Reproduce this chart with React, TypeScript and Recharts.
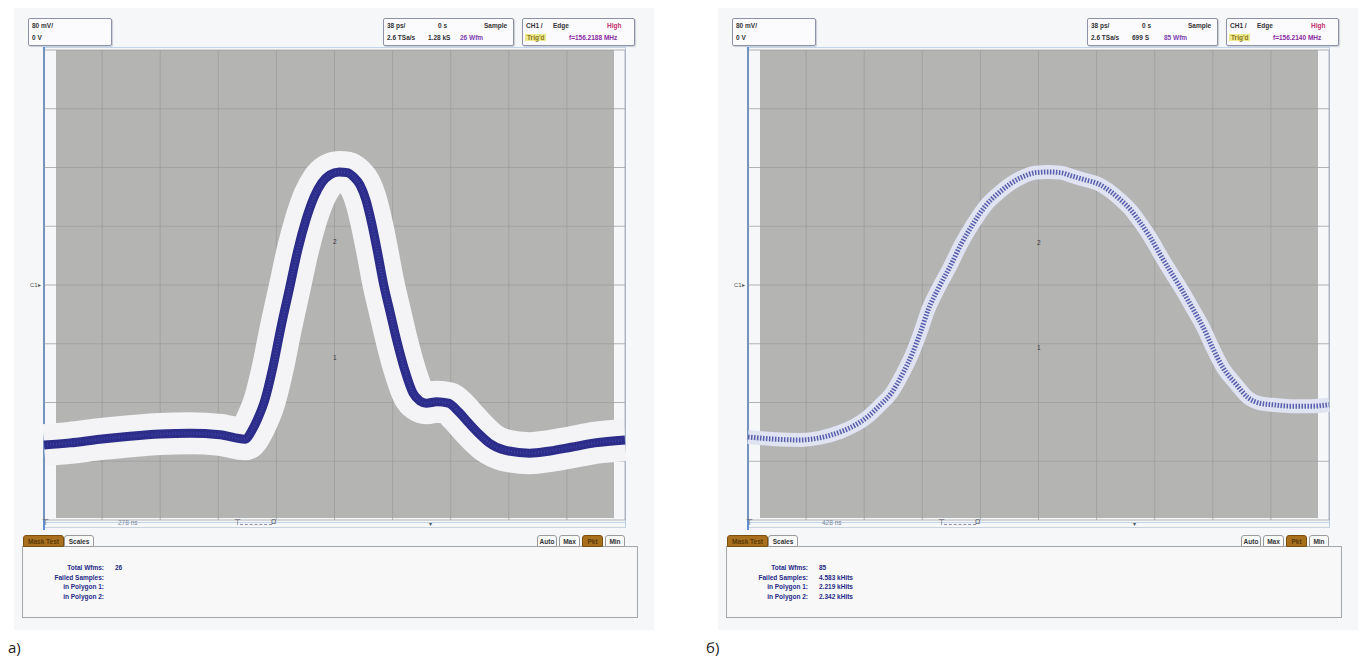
import { LineChart, Line, XAxis, YAxis, CartesianGrid } from "recharts";

// horizontal position in divisions (0..10), vertical value in mV (80 mV/div)
const pulseDiv = [0, 0.45, 0.96, 1.48, 2.0, 2.51, 3.03, 3.46, 3.58, 3.68, 3.8, 3.94, 4.08, 4.23, 4.37, 4.51, 4.65, 4.78, 4.92, 5.08, 5.22, 5.33, 5.44, 5.54, 5.64, 5.74, 5.84, 5.96, 6.07, 6.21, 6.35, 6.47, 6.58, 6.76, 6.96, 7.14, 7.31, 7.49, 7.66, 7.93, 8.36, 8.71, 9.07, 9.48, 10];
const pulseMv = [-218, -215, -210, -206, -203, -202, -204, -210, -198, -182, -157, -112, -57, -3, 48, 89, 120, 139, 150, 154, 153, 147, 136, 116, 84, 45, 3, -38, -75, -116, -147, -158, -161, -159, -161, -173, -188, -203, -215, -225, -229, -226, -221, -215, -211];

const waveDiv = [0, 0.47, 0.9, 1.24, 1.59, 1.84, 2.05, 2.28, 2.47, 2.66, 2.83, 2.97, 3.1, 3.28, 3.47, 3.67, 3.88, 4.09, 4.31, 4.52, 4.72, 4.95, 5.16, 5.38, 5.59, 5.81, 6.02, 6.21, 6.41, 6.59, 6.76, 6.93, 7.12, 7.29, 7.47, 7.66, 7.83, 8.0, 8.17, 8.4, 8.6, 8.81, 9.02, 9.34, 9.69, 10];
const waveMv = [-207, -210, -211, -208, -200, -191, -180, -163, -147, -121, -93, -64, -34, -4, 24, 56, 84, 108, 125, 138, 147, 153, 154, 153, 148, 143, 138, 129, 116, 102, 84, 64, 38, 16, -7, -33, -57, -86, -112, -135, -153, -161, -163, -165, -165, -163];

const xTicks = [0, 1, 2, 3, 4, 5, 6, 7, 8, 9, 10];
const yTicks = [-320, -240, -160, -80, 0, 80, 160, 240, 320];

const statLabels = ["Total Wfms:", "Failed Samples:", "in Polygon 1:", "in Polygon 2:"];
const statsA = ["26", "", "", ""];
const statsB = ["85", "4.583 kHits", "2.219 kHits", "2.342 kHits"];

const FONT = '"Liberation Sans", Arial, sans-serif';
const NAVY = "#1e2a86";

function InfoBoxes({ x0, rate, wfm, freq }: { x0: number; rate: string; wfm: string; freq: string }) {
  const box = {
    position: "absolute" as const,
    top: 18,
    height: 26,
    background: "#fbfbfd",
    border: "1px solid #8e92a8",
    borderRadius: 2,
    boxShadow: "1px 1px 1px #c9ccd6",
    fontFamily: FONT,
    fontSize: 6.5,
    fontWeight: 700,
    color: "#333",
  };
  const cell = (left: number, top: number, text: string, extra: object = {}) => (
    <span style={{ position: "absolute", left, top, whiteSpace: "nowrap", ...extra }}>{text}</span>
  );
  return (
    <>
      <div style={{ ...box, left: x0 + 28, width: 82 }}>
        {cell(3, 3, "80 mV/")}
        {cell(3, 15, "0 V")}
      </div>
      <div style={{ ...box, left: x0 + 383, width: 129 }}>
        {cell(3, 3, "38 ps/")}
        {cell(54, 3, "0 s")}
        {cell(100, 3, "Sample")}
        {cell(3, 15, "2.6 TSa/s")}
        {cell(44, 15, rate)}
        {cell(76, 15, wfm, { color: "#7b3fb0" })}
      </div>
      <div style={{ ...box, left: x0 + 522, width: 111 }}>
        {cell(3, 3, "CH1 /")}
        {cell(30, 3, "Edge")}
        {cell(84, 3, "High", { color: "#c0306a" })}
        {cell(2, 15, "Trig'd", { background: "#efe98e", color: "#8a7a20", padding: "0 2px" })}
        {cell(46, 15, freq, { color: "#8a2aa0" })}
      </div>
    </>
  );
}

function BottomPanel({ x0, values, axisText }: { x0: number; values: string[]; axisText: string }) {
  const tab = (left: number, width: number, text: string, on: boolean) => (
    <div
      style={{
        position: "absolute",
        left: x0 + left,
        top: 535,
        width,
        height: 12,
        borderRadius: "3px 3px 0 0",
        border: on ? "1px solid #7a5010" : "1px solid #9a9a9a",
        background: on ? "#a8701c" : "#fafafa",
        color: on ? "#5a3a08" : "#333",
        fontFamily: FONT,
        fontSize: 6.5,
        fontWeight: 700,
        textAlign: "center",
        lineHeight: "12px",
        boxSizing: "border-box",
      }}
    >
      {text}
    </div>
  );
  return (
    <>
      <span style={{ position: "absolute", left: x0 + 118, top: 519, fontFamily: FONT, fontSize: 6.5, color: "#7c8aa0" }}>{axisText}</span>
      <span style={{ position: "absolute", left: x0 + 42, top: 518, fontFamily: FONT, fontSize: 8, color: "#4a5060" }}>⊤</span>
      <span style={{ position: "absolute", left: x0 + 234, top: 518, fontFamily: FONT, fontSize: 8, color: "#4a5060" }}>⊤</span>
      <div style={{ position: "absolute", left: x0 + 240, top: 524, width: 32, borderTop: "1px dashed #8a90a0" }} />
      <span style={{ position: "absolute", left: x0 + 271, top: 518, fontFamily: FONT, fontSize: 7, color: "#4a5060" }}>Ω</span>
      <span style={{ position: "absolute", left: x0 + 429, top: 520, fontFamily: FONT, fontSize: 6, color: "#4a5060" }}>▾</span>
      <div style={{ position: "absolute", left: x0 + 22, top: 546, width: 616, height: 72, border: "1px solid #a3a6ad", background: "#f8f8f9", boxSizing: "border-box" }} />
      {tab(23, 41, "Mask Test", true)}
      {tab(64, 30, "Scales", false)}
      {tab(537, 20, "Auto", false)}
      {tab(559, 21, "Max", false)}
      {tab(582, 21, "Pkt", true)}
      {tab(605, 20, "Min", false)}
      {statLabels.map((s, i) => (
        <span key={s} style={{ position: "absolute", right: 1368 - (x0 + 104), top: 564 + i * 9.5, fontFamily: FONT, fontSize: 6.5, fontWeight: 700, color: NAVY, whiteSpace: "nowrap" }}>
          {s}
        </span>
      ))}
      {values.map((v, i) => (
        <span key={i} style={{ position: "absolute", left: x0 + 115, top: 564 + i * 9.5, fontFamily: FONT, fontSize: 6.5, fontWeight: 700, color: NAVY, whiteSpace: "nowrap" }}>
          {v}
        </span>
      ))}
    </>
  );
}

function Scope({ x0, div, mv, masked, marks }: { x0: number; div: number[]; mv: number[]; masked: boolean; marks: number[] }) {
  const data = div.map((t, i) => ({ t, v: mv[i] }));
  return (
    <>
      <div style={{ position: "absolute", left: x0 + 56, top: 50, width: 558, height: 468, background: "#b4b4b3" }} />
      <div style={{ position: "absolute", left: x0 + 44, top: 47, width: 582, height: 1, background: "#c3d4ea" }} />
      <div style={{ position: "absolute", left: x0 + 625, top: 47, width: 1, height: 481, background: "#b5cbe8" }} />
      <div style={{ position: "absolute", left: x0 + 44, top: 522, width: 582, height: 1, background: "#c3d4ea" }} />
      <div style={{ position: "absolute", left: x0 + 44, top: 527, width: 582, height: 1, background: "#c9d3df" }} />
      <div style={{ position: "absolute", left: x0 + 43, top: 47, width: 2, height: 483, background: "#5d8fd4" }} />
      <div style={{ position: "absolute", left: x0, top: 0 }}>
        <LineChart width={650} height={540} data={data} margin={{ top: 50, right: 25, bottom: 20, left: 44 }}>
          <CartesianGrid stroke="#9c9c9c" strokeOpacity={0.75} />
          <XAxis type="number" dataKey="t" domain={[0, 10]} ticks={xTicks} hide />
          <YAxis type="number" domain={[-320, 320]} ticks={yTicks} hide />
          {masked && (
            <Line dataKey="v" type="monotone" stroke="#f4f4f6" strokeWidth={42} strokeLinejoin="round" strokeLinecap="butt" dot={false} isAnimationActive={false} />
          )}
          {masked ? (
            <Line dataKey="v" type="monotone" stroke="#2c2c8a" strokeWidth={9} dot={false} isAnimationActive={false} />
          ) : (
            <Line dataKey="v" type="monotone" stroke="#dfe3f2" strokeWidth={14} dot={false} isAnimationActive={false} />
          )}
          <Line
            dataKey="v"
            type="monotone"
            stroke={masked ? "#4b4bb0" : "#363c9c"}
            strokeWidth={masked ? 3 : 5}
            strokeDasharray={masked ? "1 2" : "1.5 1.5"}
            strokeOpacity={masked ? 0.6 : 0.8}
            dot={false}
            isAnimationActive={false}
          />
        </LineChart>
      </div>
      <span style={{ position: "absolute", left: x0 + 30, top: 281, fontFamily: FONT, fontSize: 6, color: "#555" }}>C1▸</span>
      <span style={{ position: "absolute", left: x0 + 333, top: marks[0] - 4, fontFamily: FONT, fontSize: 6.5, color: "#333" }}>2</span>
      <span style={{ position: "absolute", left: x0 + 333, top: marks[1] - 4, fontFamily: FONT, fontSize: 6.5, color: "#333" }}>1</span>
    </>
  );
}

export default function App() {
  return (
    <div style={{ position: "absolute", left: 0, top: 0, width: 1368, height: 660, background: "#ffffff", overflow: "hidden" }}>
      <div style={{ position: "absolute", left: 14, top: 8, width: 640, height: 622, background: "#f6f7f8" }} />
      <div style={{ position: "absolute", left: 718, top: 8, width: 640, height: 622, background: "#f6f7f8" }} />

      <InfoBoxes x0={0} rate="1.28 kS" wfm="26 Wfm" freq="f=156.2188 MHz" />
      <Scope x0={0} div={pulseDiv} mv={pulseMv} masked marks={[242, 358]} />
      <BottomPanel x0={0} values={statsA} axisText="278 ns" />

      <InfoBoxes x0={704} rate="699 S" wfm="85 Wfm" freq="f=156.2140 MHz" />
      <Scope x0={704} div={waveDiv} mv={waveMv} masked={false} marks={[243, 348]} />
      <BottomPanel x0={704} values={statsB} axisText="428 ns" />

      <span style={{ position: "absolute", left: 8, top: 637, fontFamily: '"Open Sans", sans-serif', fontSize: 15, color: "#222" }}>а)</span>
      <span style={{ position: "absolute", left: 706, top: 637, fontFamily: '"Open Sans", sans-serif', fontSize: 15, color: "#222" }}>б)</span>
    </div>
  );
}
